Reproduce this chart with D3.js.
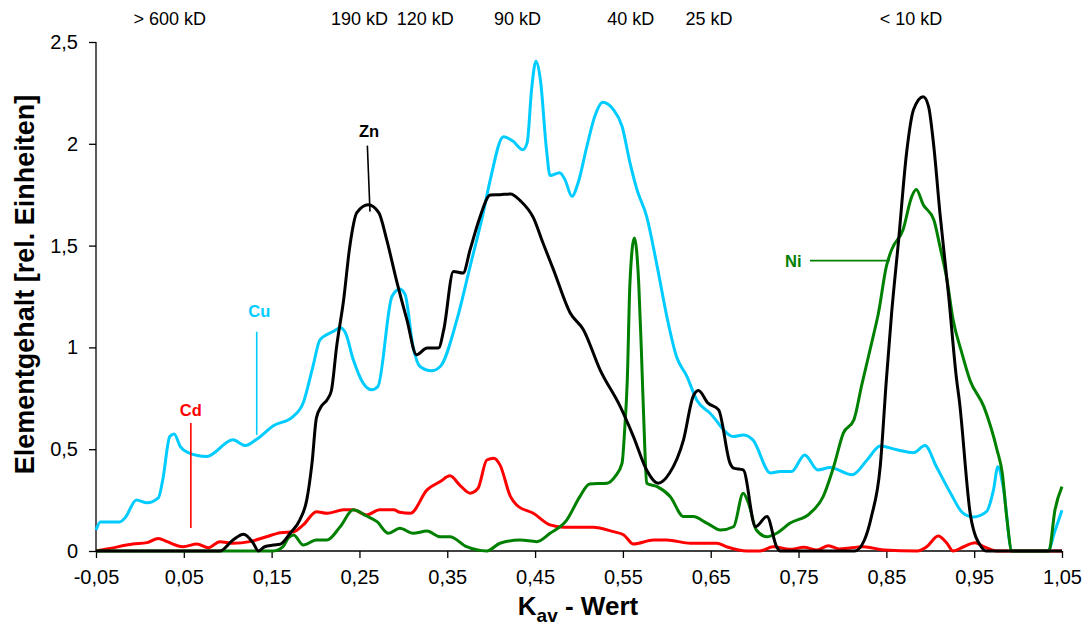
<!DOCTYPE html>
<html>
<head>
<meta charset="utf-8">
<script src="https://cdn.jsdelivr.net/npm/d3@7"></script>
<style>
  body { margin: 0; background: #fff; }
  svg { font-family: "Liberation Sans", Arial, sans-serif; }
  .axis path, .axis line { stroke: #000; stroke-width: 1.3; }
  .axis text { font-size: 20px; fill: #000; }
  .curve { fill: none; stroke-width: 3; stroke-linejoin: round; }
</style>
</head>
<body>
<script>
// K_av values (x) and element content (y)
var cu = [[-0.05,0.103],[-0.045,0.143],[-0.023,0.143],[-0.017,0.162],[-0.004,0.251],[0.008,0.237],[0.021,0.261],
  [0.026,0.349],[0.034,0.562],[0.039,0.575],[0.046,0.513],[0.055,0.483],[0.076,0.464],[0.106,0.546],[0.120,0.518],
  [0.133,0.549],[0.152,0.615],[0.174,0.659],[0.186,0.728],[0.197,0.906],[0.205,1.037],[0.220,1.078],[0.228,1.096],
  [0.234,1.072],[0.243,0.939],[0.254,0.826],[0.264,0.792],[0.271,0.808],[0.287,1.250],[0.296,1.287],[0.302,1.259],
  [0.311,1.004],[0.319,0.906],[0.332,0.885],[0.342,0.906],[0.361,1.136],[0.376,1.398],[0.391,1.662],[0.399,1.824],
  [0.414,2.035],[0.425,2.012],[0.436,1.971],[0.441,2.006],[0.446,2.266],[0.451,2.406],[0.456,2.316],[0.463,1.971],
  [0.467,1.844],[0.478,1.858],[0.484,1.824],[0.492,1.742],[0.499,1.809],[0.509,1.988],[0.518,2.135],[0.527,2.204],
  [0.539,2.169],[0.549,2.086],[0.558,1.908],[0.566,1.775],[0.577,1.644],[0.589,1.398],[0.600,1.152],[0.611,0.955],
  [0.623,0.857],[0.634,0.742],[0.649,0.678],[0.676,0.562],[0.687,0.570],[0.698,0.546],[0.718,0.383],[0.729,0.390],
  [0.742,0.390],[0.757,0.472],[0.772,0.398],[0.786,0.410],[0.811,0.374],[0.828,0.447],[0.843,0.516],[0.862,0.497],
  [0.881,0.483],[0.894,0.518],[0.907,0.414],[0.923,0.285],[0.937,0.187],[0.949,0.167],[0.964,0.193],[0.972,0.300],
  [0.977,0.414],[0.983,0.316],[0.993,0],[1.034,0],[1.042,0.10],[1.050,0.20]];

var zn = [[-0.05,0],[0.091,0],[0.106,0.054],[0.118,0.082],[0.129,0.039],[0.135,0],[0.142,0.021],[0.152,0.029],
  [0.160,0.034],[0.171,0.087],[0.182,0.152],[0.190,0.251],[0.196,0.433],[0.201,0.654],[0.207,0.713],[0.213,0.742],
  [0.218,0.787],[0.224,1.004],[0.232,1.234],[0.239,1.496],[0.247,1.662],[0.260,1.701],[0.272,1.662],[0.281,1.529],
  [0.292,1.332],[0.304,1.136],[0.315,0.964],[0.327,0.997],[0.340,0.997],[0.346,1.087],[0.357,1.373],[0.368,1.365],
  [0.376,1.480],[0.387,1.637],[0.399,1.748],[0.410,1.750],[0.422,1.754],[0.433,1.721],[0.448,1.637],[0.459,1.513],
  [0.471,1.381],[0.490,1.169],[0.505,1.087],[0.524,0.890],[0.547,0.709],[0.562,0.562],[0.577,0.398],[0.590,0.333],
  [0.603,0.382],[0.619,0.546],[0.630,0.759],[0.636,0.788],[0.647,0.726],[0.659,0.693],[0.672,0.431],[0.676,0.407],
  [0.687,0.398],[0.701,0.119],[0.714,0.169],[0.725,0.021],[0.729,0],[0.814,0],[0.825,0.054],[0.833,0.169],
  [0.843,0.414],[0.850,0.841],[0.856,1.169],[0.864,1.529],[0.873,1.955],[0.881,2.168],[0.892,2.231],[0.898,2.184],
  [0.904,1.988],[0.911,1.660],[0.921,1.250],[0.930,0.841],[0.933,0.742],[0.946,0.169],[0.958,0.021],[0.964,0],
  [1.050,0]];

var ni = [[-0.05,0],[0.152,0],[0.163,0.021],[0.169,0.064],[0.175,0.079],[0.186,0.029],[0.201,0.054],[0.213,0.054],
  [0.228,0.119],[0.243,0.202],[0.258,0.172],[0.270,0.144],[0.283,0.087],[0.296,0.112],[0.311,0.087],[0.327,0.098],
  [0.342,0.070],[0.353,0.070],[0.372,0.021],[0.395,0],[0.410,0.038],[0.433,0.054],[0.452,0.046],[0.467,0.087],
  [0.486,0.152],[0.501,0.267],[0.512,0.329],[0.532,0.333],[0.541,0.365],[0.549,0.431],[0.552,0.595],[0.555,0.841],
  [0.558,1.316],[0.563,1.537],[0.568,1.316],[0.571,0.988],[0.575,0.497],[0.577,0.333],[0.589,0.316],[0.604,0.267],
  [0.619,0.169],[0.630,0.169],[0.646,0.136],[0.661,0.103],[0.676,0.119],[0.687,0.284],[0.693,0.235],[0.702,0.103],
  [0.714,0.070],[0.725,0.087],[0.740,0.136],[0.763,0.185],[0.778,0.267],[0.790,0.414],[0.801,0.579],[0.813,0.644],
  [0.822,0.816],[0.835,1.054],[0.841,1.169],[0.850,1.398],[0.856,1.480],[0.869,1.578],[0.879,1.742],[0.884,1.775],
  [0.892,1.701],[0.904,1.627],[0.911,1.496],[0.919,1.332],[0.926,1.136],[0.936,0.972],[0.945,0.841],[0.961,0.709],
  [0.976,0.497],[0.982,0.382],[0.987,0.169],[0.993,0],[1.035,0],[1.042,0.202],[1.050,0.316]];

var cd = [[-0.05,0],[-0.034,0.013],[-0.008,0.034],[0.008,0.041],[0.021,0.062],[0.031,0.046],[0.049,0.021],
  [0.065,0.034],[0.078,0.016],[0.091,0.046],[0.106,0.038],[0.125,0.046],[0.144,0.070],[0.160,0.090],[0.175,0.095],
  [0.186,0.128],[0.201,0.193],[0.213,0.185],[0.232,0.202],[0.243,0.202],[0.258,0.177],[0.273,0.202],[0.289,0.202],
  [0.296,0.190],[0.308,0.185],[0.327,0.300],[0.342,0.341],[0.353,0.369],[0.365,0.320],[0.376,0.284],[0.385,0.308],
  [0.395,0.447],[0.403,0.456],[0.410,0.423],[0.422,0.267],[0.429,0.226],[0.448,0.185],[0.467,0.128],[0.482,0.117],
  [0.516,0.117],[0.539,0.095],[0.551,0.079],[0.562,0.034],[0.585,0.054],[0.600,0.054],[0.627,0.038],[0.657,0.038],
  [0.668,0.021],[0.691,0],[0.706,0],[0.721,0.021],[0.740,0.008],[0.756,0.018],[0.771,0.005],[0.784,0.026],
  [0.797,0.010],[0.824,0.021],[0.847,0.005],[0.885,0],[0.896,0.021],[0.909,0.074],[0.919,0.038],[0.926,0],
  [0.938,0.021],[0.951,0.041],[0.961,0.021],[0.976,0],[1.050,0]];

var xTicks = [-0.05,0.05,0.15,0.25,0.35,0.45,0.55,0.65,0.75,0.85,0.95,1.05];
var yTicks = [0,0.5,1,1.5,2,2.5];

// molecular weight marks along the top
var mwLabels = ["> 600 kD","190 kD","120 kD","90 kD","40 kD","25 kD","< 10 kD"];
var mwKav = [0.034,0.250,0.325,0.430,0.559,0.648,0.878];

// series name, colour, label position and pointer line (data coords)
var seriesNames = ["Cu","Zn","Ni","Cd"];
var seriesColors = ["#00CCFF","#000000","#008000","#FF0000"];
var seriesData = [cu, zn, ni, cd];
var labelPos = [[0.136,1.15],[0.261,2.035],[0.744,1.396],[0.058,0.664]];
var pointerLines = [[[0.133,1.077],[0.133,0.570]],[[0.259,1.991],[0.262,1.667]],
                    [[0.763,1.426],[0.854,1.426]],[[0.058,0.629],[0.058,0.113]]];

var margin = {top: 42, right: 30, bottom: 74, left: 96},
    width = 1092 - margin.left - margin.right,
    height = 625 - margin.top - margin.bottom;

var svg = d3.select("body").append("svg")
    .attr("width", 1092)
    .attr("height", 625)
  .append("g")
    .attr("transform", "translate(" + margin.left + "," + margin.top + ")");

var x = d3.scaleLinear().domain([-0.05, 1.05]).range([0, 966]);
var y = d3.scaleLinear().domain([0, 2.5]).range([height, 0]);

// german decimal comma, plain hyphen for negatives
var comma = function(fmt) {
  return function(d) { return d3.format(fmt)(d).replace(".", ",").replace("\u2212", "-"); };
};

svg.append("g")
    .attr("class", "x axis")
    .attr("transform", "translate(0," + height + ")")
    .call(d3.axisBottom(x).tickValues(xTicks).tickSize(7).tickPadding(12).tickFormat(comma(".2f")))
    .call(function(g) { g.selectAll("text").attr("dy", "0.71em"); });

svg.append("g")
    .attr("class", "y axis")
    .call(d3.axisLeft(y).tickValues(yTicks).tickSize(7).tickPadding(11)
      .tickFormat(function(d) { return String(d).replace(".", ","); }));

svg.selectAll(".axis .domain").attr("d", function() {
  return this.parentNode.classList.contains("x") ? "M0,0H966" : "M0," + height + "V0";
});

// axis titles
svg.append("text")
    .attr("transform", "rotate(-90)")
    .attr("x", -height / 2 + 12)
    .attr("y", -62)
    .style("text-anchor", "middle")
    .style("font-weight", "bold")
    .style("font-size", "27px")
    .text("Elementgehalt [rel. Einheiten]");

var xt = svg.append("text")
    .attr("x", 482)
    .attr("y", height + 64)
    .style("text-anchor", "middle")
    .style("font-weight", "bold")
    .style("font-size", "26px");
xt.append("tspan").text("K");
xt.append("tspan").attr("dy", 7).style("font-size", "19px").text("av");
xt.append("tspan").attr("dy", -7).text(" - Wert");

// top labels
svg.selectAll(".mw")
    .data(mwLabels)
  .enter().append("text")
    .attr("class", "mw")
    .attr("x", function(d, i) { return x(mwKav[i]); })
    .attr("y", -17)
    .style("text-anchor", "middle")
    .style("font-size", "18px")
    .text(function(d) { return d; });

var line = d3.line()
    .x(function(d) { return x(d[0]); })
    .y(function(d) { return y(d[1]); })
    .curve(d3.curveMonotoneX);

// draw order: Cu, Cd, Ni, Zn
[0, 3, 2, 1].forEach(function(i) {
  svg.append("path")
      .datum(seriesData[i])
      .attr("class", "curve")
      .attr("d", line)
      .style("stroke", seriesColors[i]);
});

seriesNames.forEach(function(name, i) {
  svg.append("line")
      .attr("x1", x(pointerLines[i][0][0]))
      .attr("y1", y(pointerLines[i][0][1]))
      .attr("x2", x(pointerLines[i][1][0]))
      .attr("y2", y(pointerLines[i][1][1]))
      .style("stroke", seriesColors[i])
      .style("stroke-width", 1.6);
  svg.append("text")
      .attr("x", x(labelPos[i][0]))
      .attr("y", y(labelPos[i][1]))
      .style("text-anchor", "middle")
      .style("font-weight", "bold")
      .style("font-size", "16.5px")
      .style("fill", seriesColors[i])
      .text(name);
});
</script>
</body>
</html>
